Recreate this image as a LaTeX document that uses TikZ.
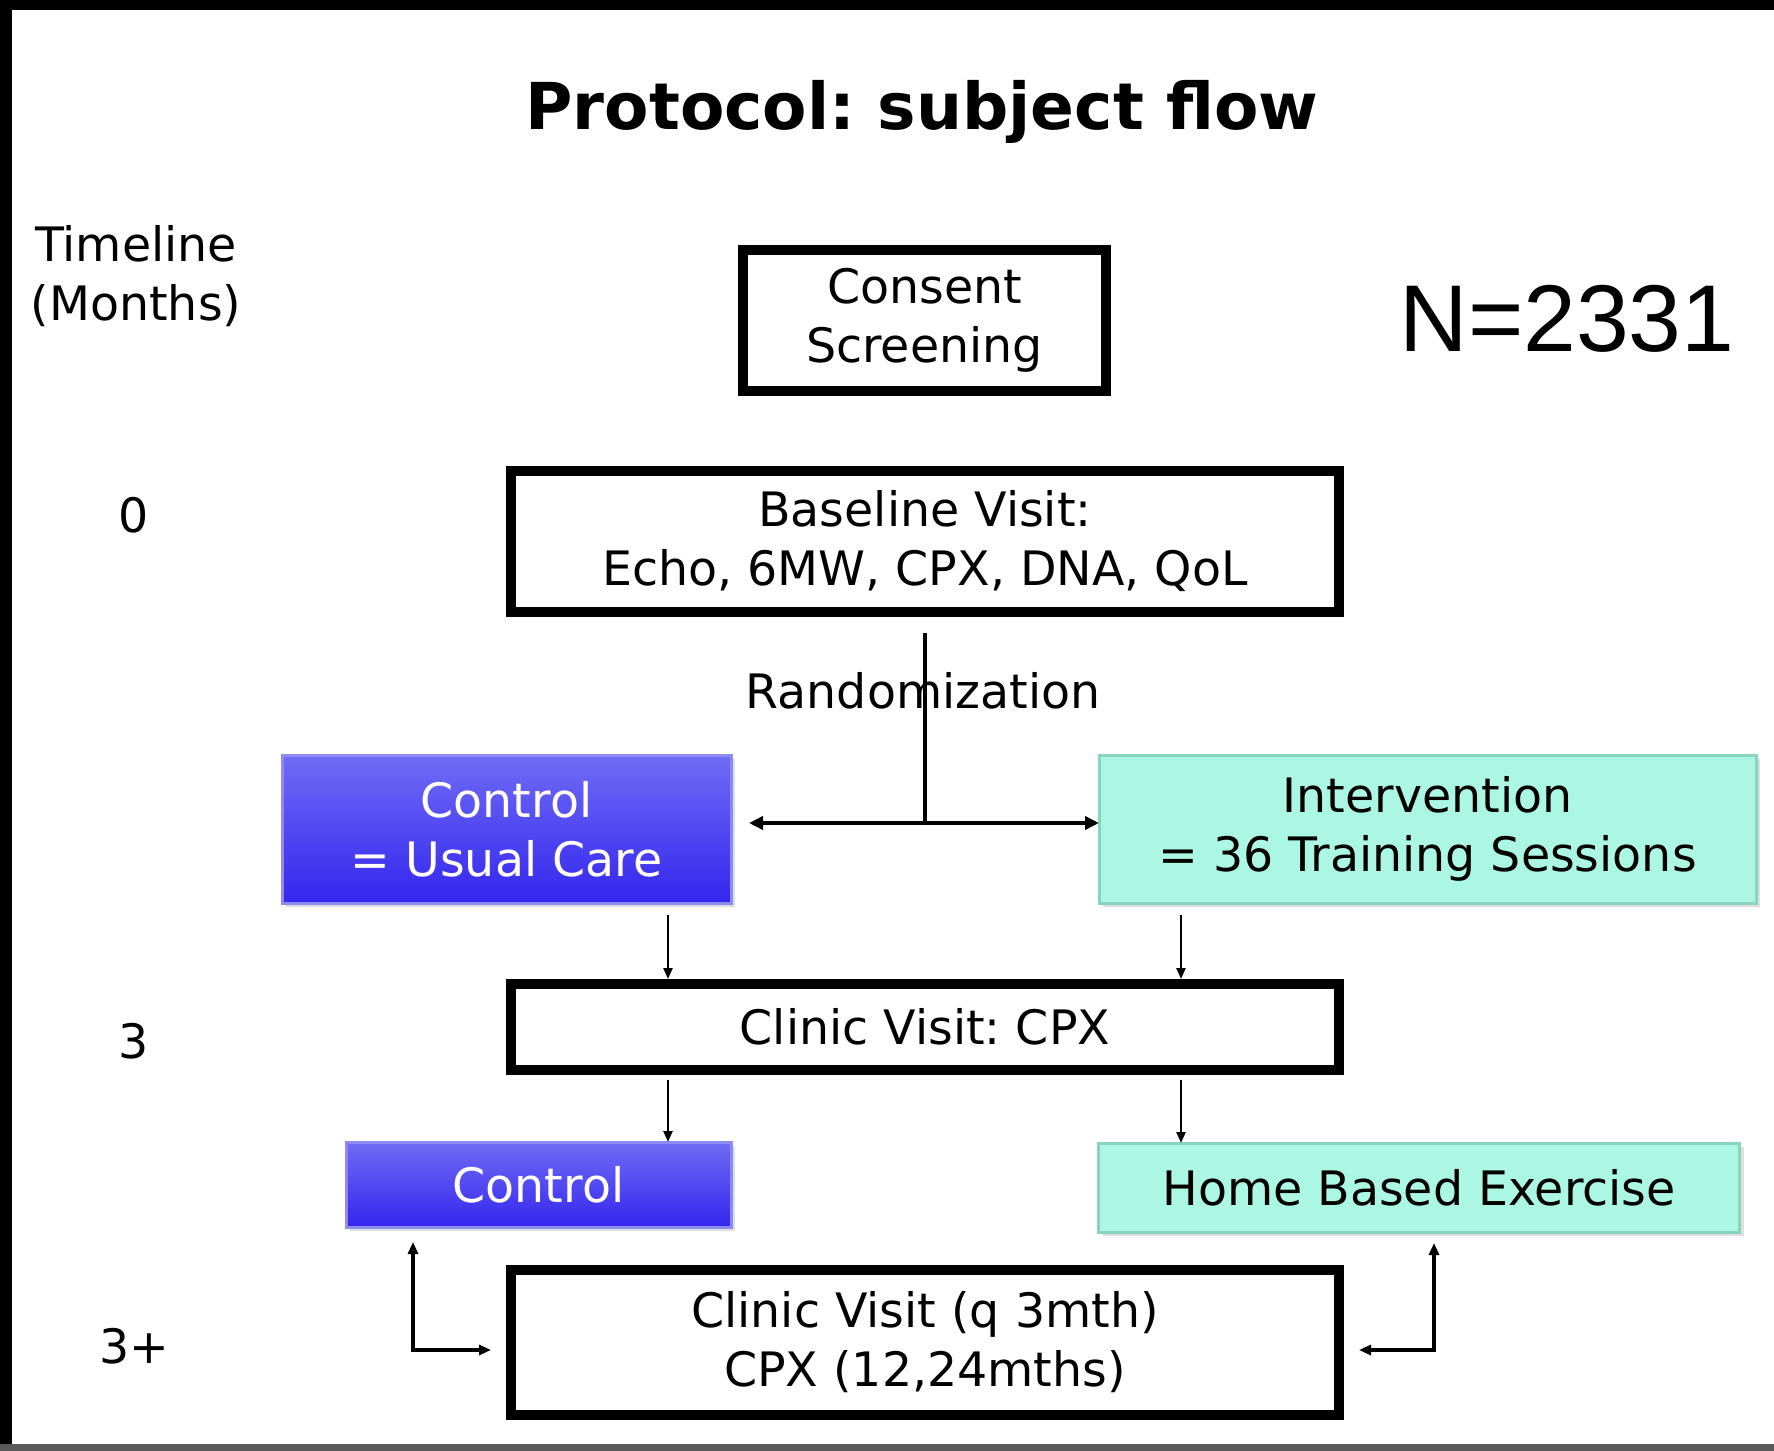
\documentclass[tikz,border=0pt]{standalone}
\usepackage{fontspec}
\setmainfont{DejaVu Sans}
\newfontfamily\arialfont{Liberation Sans}
\usepackage{tikz}
\usetikzlibrary{arrows.meta, positioning, shadows}
\frenchspacing

\definecolor{ctrltop}{RGB}{112,108,246}
\definecolor{ctrlbot}{RGB}{52,38,238}
\definecolor{ctrledge}{RGB}{140,140,240}
\definecolor{aquafill}{RGB}{172,246,228}
\definecolor{aquaedge}{RGB}{135,212,192}

\begin{document}
\begin{tikzpicture}[x=0.1mm, y=-0.1mm,
    every node/.style={font=\fontsize{13.5}{16.8}\selectfont, inner sep=0pt, outer sep=0pt},
    outbox/.style={draw=black, line width=1mm, fill=white, align=center,
        drop shadow={opacity=0.25, shadow xshift=0.4mm, shadow yshift=-0.4mm}},
    bluebox/.style={draw=ctrledge, line width=0.3mm, top color=ctrltop, bottom color=ctrlbot,
        text=white, align=center,
        drop shadow={opacity=0.25, shadow xshift=0.4mm, shadow yshift=-0.4mm}},
    aquabox/.style={draw=aquaedge, line width=0.3mm, fill=aquafill, align=center,
        drop shadow={opacity=0.25, shadow xshift=0.4mm, shadow yshift=-0.4mm}},
    darr/.style={line width=0.7pt, -{Triangle[length=1.1mm, width=0.9mm]}},
    rarr/.style={line width=1.1pt, -{Triangle[length=1.4mm, width=1.3mm]}},
    looparr/.style={line width=0.9pt, {Triangle[length=1.2mm, width=1mm]}-{Triangle[length=1.2mm, width=1mm]}}]

    % page and frame
    \useasboundingbox (0,0) rectangle (1774,1451);
    \fill[white] (0,0) rectangle (1774,1451);
    \fill[black] (0,0) rectangle (1774,10);
    \fill[black] (0,0) rectangle (12,1451);
    \fill[black!65] (0,1444) rectangle (1774,1451);

    \node[font=\fontsize{18.4}{22}\selectfont\bfseries, anchor=base] (title) at (922,130) {Protocol: subject flow};
    \node[font=\arialfont\fontsize{27}{32}\selectfont] (total) at (1567,319) {N=2331};

    % timeline column
    \node[align=center] (tline) at (136,276) {Timeline\\(Months)};
    \foreach \y/\t [count=\i] in {515/0, 1041/3, 1346/3+} {
        \node (month\i) at (134,\y) {\t};
    }

    % boxes
    \node[outbox, minimum width=36.3mm, minimum height=14.1mm] (consent) at (924.5,320.5) {Consent\\Screening};
    \node[outbox, minimum width=82.8mm, minimum height=14.1mm] (base) at (925,541.5) {Baseline Visit:\\Echo, 6MW, CPX, DNA, QoL};
    \node[bluebox, minimum width=44.9mm, minimum height=14.8mm] (ctrl) at (506.5,829) {Control\\= Usual Care};
    \node[aquabox, minimum width=65.7mm, minimum height=14.8mm] (interv) at (1427.5,829) {Intervention\\= 36 Training Sessions};
    \node[outbox, minimum width=82.8mm, minimum height=8.6mm] (clinic) at (925,1027) {Clinic Visit: CPX};
    \node[bluebox, minimum width=38.5mm, minimum height=8.5mm] (ctrlb) at (538.5,1184.5) {Control};
    \node[aquabox, minimum width=64.1mm, minimum height=8.9mm] (home) at (1419,1187.5) {Home Based Exercise};
    \node[outbox, minimum width=82.8mm, minimum height=14.5mm] (follow) at (925,1342.5) {Clinic Visit (q 3mth)\\CPX (12,24mths)};

    % randomization split
    \node (rand) at (923,691) {Randomization};
    \coordinate (split) at (925,823);
    \draw[line width=1.1pt, shorten <=2.1mm] (base.south) -- (split);
    \draw[rarr] (split) -- (interv.west |- split);
    \draw[rarr, shorten >=1.8mm] (split) -- (ctrl.east |- split);

    % down arrows
    \coordinate (lx) at (668,0);
    \coordinate (rx) at (1181,0);
    \draw[darr, shorten <=1.2mm, shorten >=0.5mm] (ctrl.south -| lx) -- (clinic.north -| lx);
    \draw[darr, shorten <=1.2mm, shorten >=0.5mm] (interv.south -| rx) -- (clinic.north -| rx);
    \draw[darr, shorten <=1mm] (clinic.south -| lx) -- (ctrlb.north -| lx);
    \draw[darr, shorten <=1mm] (clinic.south -| rx) -- (home.north -| rx);

    % follow-up loops
    \coordinate (lc) at (413,1350);
    \coordinate (rc) at (1434,1350);
    \draw[looparr, shorten <=1.5mm, shorten >=2mm] (ctrlb.south -| lc) -- (lc) -- (follow.west |- lc);
    \draw[looparr, shorten <=1.1mm, shorten >=2mm] (home.south -| rc) -- (rc) -- (follow.east |- rc);
\end{tikzpicture}
\end{document}
